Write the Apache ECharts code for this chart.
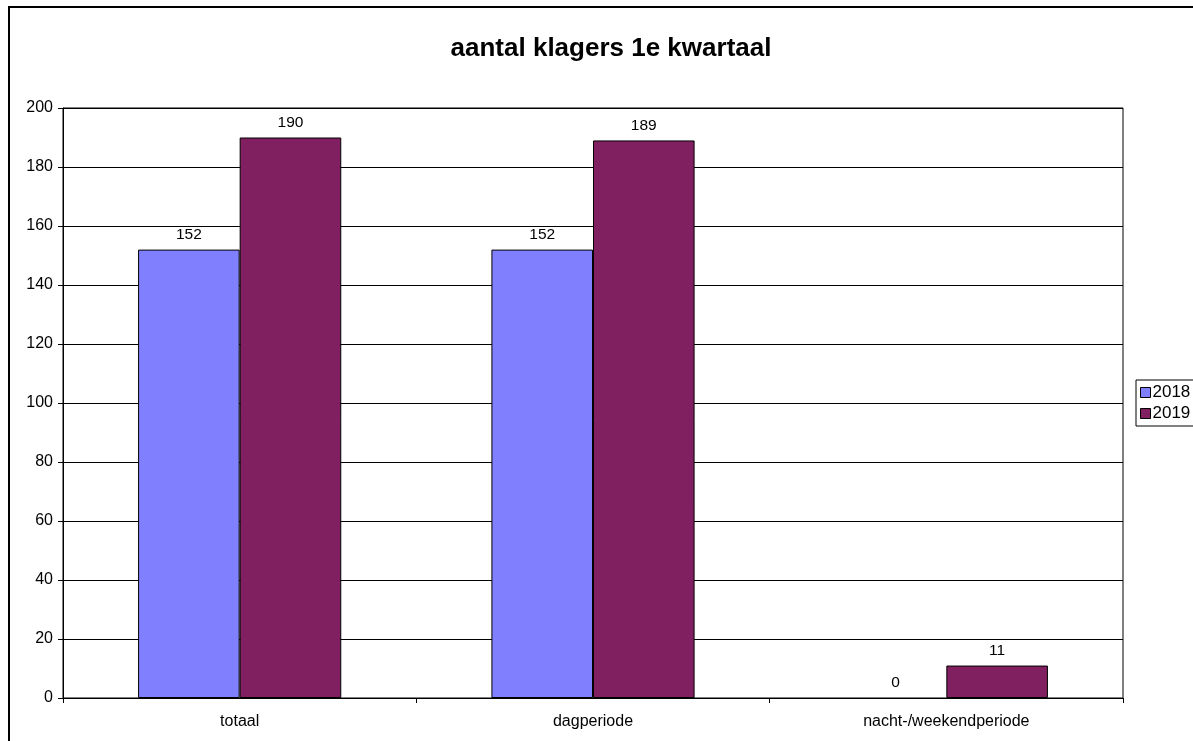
<!DOCTYPE html>
<html><head><meta charset="utf-8">
<script src="https://cdn.jsdelivr.net/npm/echarts@6/dist/echarts.min.js"></script>
<style>html,body{margin:0;padding:0;background:#fff}#c{width:1193px;height:741px}</style>
</head><body><div id="c"></div>
<script>
const categories = ['totaal', 'dagperiode', 'nacht-/weekendperiode'];
const seriesNames = ['2018', '2019'];
const values2018 = [152, 152, 0];
const values2019 = [190, 189, 11];
const yTicks = {min: 0, max: 200, interval: 20};

const font = 'Liberation Sans, Arial, sans-serif';
const chart = echarts.init(document.getElementById('c'));
const lbl = {show: true, position: 'top', color: '#000', fontSize: 15.5, fontFamily: font, distance: 7};
const toData = arr => arr.map(v => v === 0 ? {value: v, itemStyle: {borderWidth: 0}} : v);
chart.setOption({
  animation: false,
  title: {text: 'aantal klagers 1e kwartaal', left: 606, textAlign: 'center', top: 31,
    textStyle: {fontSize: 26, fontWeight: 'bold', fontFamily: font, color: '#000'}},
  graphic: [{type: 'rect', shape: {x: 9, y: 7, width: 1250, height: 800},
    style: {fill: 'none', stroke: '#000', lineWidth: 2}, z: -1}],
  legend: {orient: 'vertical', left: 1136, top: 380, itemWidth: 10, itemHeight: 10, itemGap: 4,
    icon: 'rect', borderColor: '#000', borderWidth: 1, padding: [4, 20, 4, 4],
    textStyle: {fontSize: 17, fontFamily: font, color: '#000', padding: [0, 0, 0, -3]},
    itemStyle: {borderColor: '#000', borderWidth: 1},
    data: seriesNames},
  grid: {left: 63, right: 70, top: 108, bottom: 43, show: true, borderColor: '#000', borderWidth: 1, backgroundColor: '#fff'},
  xAxis: {type: 'category', data: categories,
    axisLine: {lineStyle: {color: '#000', width: 1}},
    axisTick: {show: true, length: 5, lineStyle: {color: '#000'}},
    axisLabel: {color: '#000', fontSize: 16, fontFamily: font, margin: 16}},
  yAxis: {type: 'value', min: yTicks.min, max: yTicks.max, interval: yTicks.interval,
    axisLine: {show: true, lineStyle: {color: '#000'}},
    axisTick: {show: true, length: 5, lineStyle: {color: '#000'}},
    splitLine: {lineStyle: {color: '#000', width: 1}},
    axisLabel: {color: '#000', fontSize: 16, fontFamily: font, margin: 10}},
  series: [
    {name: seriesNames[0], type: 'bar', data: toData(values2018), barGap: '0%', barCategoryGap: '42.5%',
      itemStyle: {color: '#8080FF', borderColor: '#000', borderWidth: 1}, label: lbl},
    {name: seriesNames[1], type: 'bar', data: toData(values2019), barGap: '0%', barCategoryGap: '42.5%',
      itemStyle: {color: '#802060', borderColor: '#000', borderWidth: 1}, label: lbl}
  ]
});
</script></body></html>
